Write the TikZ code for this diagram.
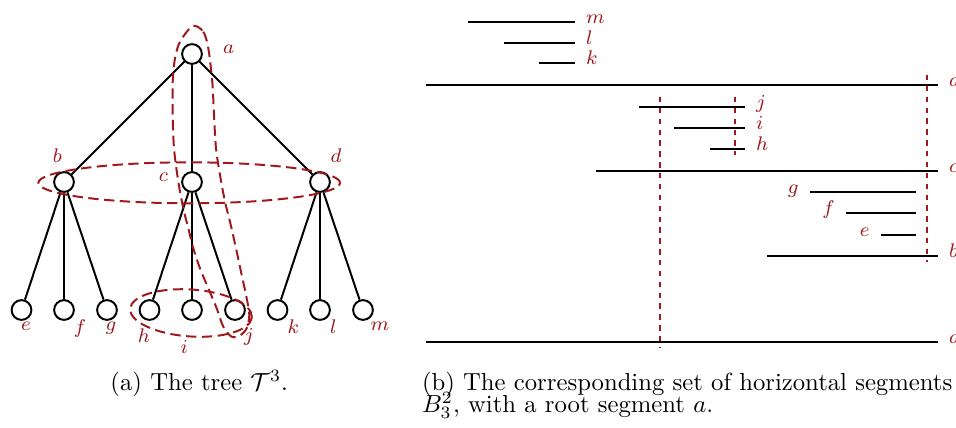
\documentclass[tikz,border=0pt]{standalone}
\usepackage{amsmath}
\usepackage{amssymb}
\usetikzlibrary{
  arrows.meta,
  positioning,
  calc
}
\definecolor{trRed}{RGB}{158,24,28}
\tikzset{
  vtx/.style={draw, circle, thick, minimum size=8pt, inner sep=0pt},
  tedge/.style={thick},
  seg/.style={thick},
  grp/.style={draw=trRed, thick, dash pattern=on 4.2pt off 2.2pt},
  vcut/.style={draw=trRed, thick, dash pattern=on 2.2pt off 2.2pt},
  lbl/.style={text=trRed, font=\footnotesize, inner sep=0pt},
  captxt/.style={font=\normalsize, inner sep=0pt, anchor=base west}
}

\begin{document}
\begin{tikzpicture}[x=0.405pt, y=-0.405pt]
  \useasboundingbox (0,0) rectangle (956,427);
  \node[vtx] (a) at (192,54) {};
  \node[vtx] (b) at (64,182) {};
  \node[vtx] (c) at (192,182) {};
  \node[vtx] (d) at (320,182) {};
  \foreach \n/\x in {e/21.5,f/64,g/107,h/149.5,i/192,j/235,k/277.5,l/320,m/363}
    \node[vtx] (\n) at (\x,310) {};
  \foreach \p/\q in {a/b,a/c,a/d,b/e,b/f,b/g,c/h,c/i,c/j,d/k,d/l,d/m}{\draw[tedge] (\p) -- (\q);}
  \foreach \n/\x/\y in {a/228.7/49.3,b/57.3/155.7,c/163.3/177.7,d/336/155.7,e/26/326.7,f/80/328.3,g/111/328.3,h/144/336,i/184.3/346.7,j/249/336.7,k/293.3/326.7,l/333.3/326.7,m/380/326.7}
    \node[lbl] (t\n) at (\x,\y) {$\n$};
  \draw[grp] (189.2,182.8) ellipse [x radius=61.1pt, y radius=8.3pt];
  \draw[grp, rotate around={-4:(191,313)}] (191,313) ellipse [x radius=24.7pt, y radius=9.5pt];
  \draw[grp] plot [smooth cycle, tension=0.5] coordinates {(192.7,26) (203.3,31.7) (208.3,48.3) (212.3,81.7) (214,115) (216,148.3) (220,175) (225,201.7) (230,221.7) (236,248.3) (241.7,275) (246.7,298.3) (249.3,315) (246.7,328.3) (240,335.5) (231.7,336.7) (223.3,326.7) (216.7,308.3) (208.3,288.3) (200,268.3) (193.3,248.3) (188.3,228.3) (183.3,208.3) (178.3,181.7) (174,148.3) (172.7,115) (172.7,81.7) (175,58.3) (180,41.7)};

  \foreach \n/\xl/\xr/\y in {m/468/575/22,l/504/575/43,k/539/575/63,d/426/938/85,j/639/745/107,i/674/745/128,h/710/745/149,c/596/938/171,g/810/916/192,f/846/916/213,e/881/916/235,b/767/938/256,a/426/938/342}{
    \coordinate (s\n L) at (\xl,\y);
    \coordinate (s\n R) at (\xr,\y);
    \draw[seg] (s\n L) -- (s\n R);
  }
  \foreach \n in {m,l,k,d,j,i,h,c,b,a}
    \node[lbl, anchor=base west] (q\n) at ($(s\n R)+(10.5,1)$) {$\n$};
  \foreach \n in {g,f,e}
    \node[lbl, anchor=base east] (q\n) at ($(s\n L)+(-11,1)$) {$\n$};
  \draw[vcut] (660,97) -- (660,347);
  \draw[vcut] (735,97) -- (735,155);
  \draw[vcut] (927,75) -- (927,262);

  \node[captxt] (capa) at (110,390.7) {(a) The tree $\mathcal{T}^3$.};
  \node[captxt] (capb) at (421.5,390.7) {(b) The corresponding set of horizontal segments};
  \node[captxt] (capc) at (421.5,412) {$B_3^2$, with a root segment $a$.};
\end{tikzpicture}
\end{document}
